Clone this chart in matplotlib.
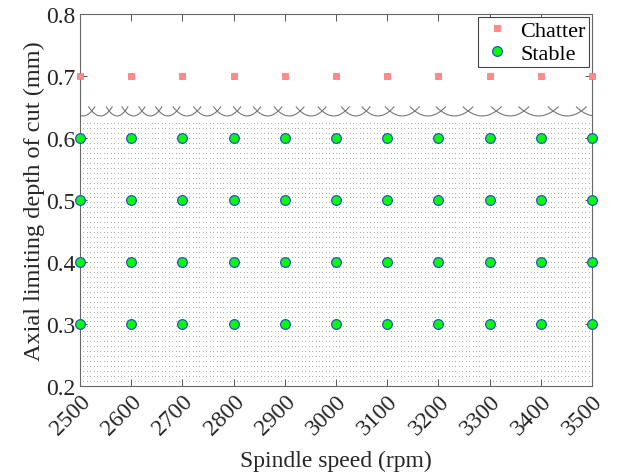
import numpy as np
import matplotlib.pyplot as plt

plt.rcParams['font.family'] = ['Liberation Serif', 'DejaVu Serif']

# test speeds (rpm) and depths (mm)
speeds = [2500, 2600, 2700, 2800, 2900, 3000, 3100, 3200, 3300, 3400, 3500]
chatter_depth = [0.7]
stable_depths = [0.3, 0.4, 0.5, 0.6]

# stability lobes: speeds where neighbouring lobes intersect
lobe_cusps = [2523, 2557, 2588, 2621, 2654, 2689, 2729, 2768, 2807, 2846,
              2887, 2930, 2973, 3018, 3059, 3105, 3154, 3205, 3258, 3313,
              3367, 3424, 3479]
lobe_min = 0.6355
lobe_cusp_depth = 0.6435

# stable mesh below the lobes
mesh_speed_step = 1000 / 150
mesh_depth_step = 0.008
mesh_depth_top = 0.625

fig = plt.figure(figsize=(6.18, 4.77), dpi=100)
ax = fig.add_axes([0.1294, 0.1887, 0.8286, 0.78])

# dotted stable region
ms, md = np.meshgrid(np.arange(2500, 3500 + 1e-6, mesh_speed_step),
                     np.arange(0.2, mesh_depth_top, mesh_depth_step))
ax.plot(ms.ravel(), md.ravel(), ls='none', marker='s', ms=0.7,
        mec='none', mfc='#ababab', zorder=1)

# lobes, each one running a bit past its cusps so they cross
edges = [lobe_cusps[0] - (lobe_cusps[1] - lobe_cusps[0])] + lobe_cusps + \
        [lobe_cusps[-1] + (lobe_cusps[-1] - lobe_cusps[-2])]
for a, b in zip(edges[:-1], edges[1:]):
    t = np.linspace(-1.35, 1.35, 40)
    x = (a + b) / 2 + t * (b - a) / 2
    y = lobe_min + (lobe_cusp_depth - lobe_min) * t ** 2
    keep = (x >= 2500) & (x <= 3500)
    ax.plot(x[keep], y[keep], color='#777777', lw=0.8, zorder=2)

# chatter / stable cutting tests
cx = [s for d in chatter_depth for s in speeds]
cy = [d for d in chatter_depth for s in speeds]
ax.plot(cx, cy, ls='none', marker='s', ms=5, mfc='#ff8a8a',
        mec='#f47373', mew=0.5, label='Chatter', zorder=4, clip_on=False)
sx = [s for d in stable_depths for s in speeds]
sy = [d for d in stable_depths for s in speeds]
ax.plot(sx, sy, ls='none', marker='o', ms=7, mfc='#00ff00',
        mec='#2e4fd0', mew=0.9, label='Stable', zorder=4, clip_on=False)

ax.set_xlim(2500, 3500)
ax.set_ylim(0.2, 0.8)
ax.set_xticks(speeds)
ax.set_xticklabels([str(s) for s in speeds], rotation=45, ha='right',
                   rotation_mode='anchor')
ax.set_yticks([0.2, 0.3, 0.4, 0.5, 0.6, 0.7, 0.8])
ax.set_yticklabels(['0.2', '0.3', '0.4', '0.5', '0.6', '0.7', '0.8'])
ax.tick_params(direction='in', top=True, right=True, length=5,
               width=0.7, color='#555555', labelsize=17, pad=3,
               labelcolor='#262626')
for sp in ax.spines.values():
    sp.set_color('#666666')
    sp.set_linewidth(0.8)

ax.set_xlabel('Spindle speed (rpm)', fontsize=17, labelpad=8,
              color='#262626')
ax.set_ylabel('Axial limiting depth of cut (mm)', fontsize=17.5, labelpad=1,
              color='#262626')

leg = ax.legend(loc='upper right', fontsize=16, fancybox=False,
                framealpha=1, edgecolor='#444444', borderaxespad=0.15,
                handletextpad=0.35, borderpad=0.15, labelspacing=0.1,
                handlelength=1.4)
leg.get_frame().set_linewidth(0.8)

fig.savefig('out.png', dpi=100)
